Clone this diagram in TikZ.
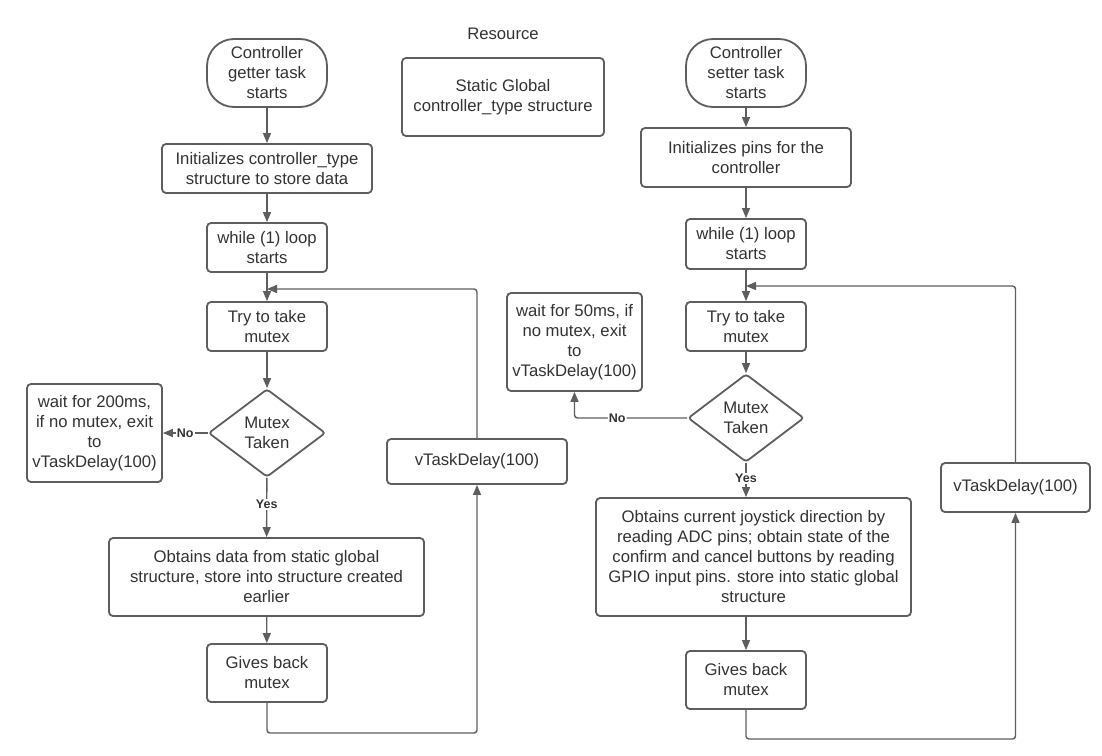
\documentclass[tikz,border=0pt]{standalone}
\usepackage{fontspec}
\setmainfont{Liberation Sans}
\usetikzlibrary{arrows.meta,shapes.geometric}
\definecolor{ln}{HTML}{5E5E5E}
\definecolor{tx}{HTML}{333333}
\begin{document}
\begin{tikzpicture}[x=1pt,y=-1pt,
  base/.style={draw=ln,line width=1.8pt,text=tx,align=center,inner sep=0pt,font=\fontsize{16.7}{20}\selectfont},
  box/.style={base,rectangle,rounded corners=4pt},
  term/.style={base,rectangle,rounded corners=27pt,minimum width=120pt,minimum height=68pt},
  dec/.style={base,diamond,rounded corners=3pt,shape aspect=1.33,minimum width=117pt,minimum height=88pt},
  plain/.style={text=tx,font=\fontsize{16.7}{20}\selectfont},
  conn/.style={draw=ln,line width=1.4pt,-{Triangle[length=10pt,width=8pt]}},
  lbl/.style={fill=white,text=tx,inner sep=1pt,font=\bfseries\fontsize{12.5}{14}\selectfont},
  ]
\useasboundingbox[fill=white] (0,0) rectangle (1102,755);

% Resource
\node[plain] (res) at (503,34) {Resource};
\node[box,minimum width=202pt,minimum height=78pt] (glob) at (503,97) {Static Global\\controller\_type structure};

% Left column
\node[term] (startL) at (267,73) {Controller\\getter task\\starts};
\node[box,minimum width=210pt,minimum height=49pt] (initL) at (267,168.5) {Initializes controller\_type\\structure to store data};
\node[box,minimum width=120pt,minimum height=49pt] (whileL) at (267,247.5) {while (1) loop\\starts};
\node[box,minimum width=120pt,minimum height=49pt] (tryL) at (267,326.5) {Try to take\\mutex};
\node[dec] (decL) at (267,433) {Mutex\\Taken};
\node[box,minimum width=135pt,minimum height=98pt] (waitL) at (94.5,433) {wait for 200ms,\\if no mutex, exit\\to\\vTaskDelay(100)};
\node[box,minimum width=315pt,minimum height=78pt] (obtL) at (266.5,577) {Obtains data from static global\\structure, store into structure created\\earlier};
\node[box,minimum width=120pt,minimum height=58pt] (giveL) at (267,673) {Gives back\\mutex};
\node[box,minimum width=180pt,minimum height=45pt] (delayL) at (477,461.5) {vTaskDelay(100)};
\coordinate (bL) at (477,733);
\coordinate (tL) at (477,289);
\coordinate (jL) at (267,289);

\draw[conn] (startL) -- (initL);
\draw[conn] (initL) -- (whileL);
\draw[conn] (whileL) -- (tryL);
\draw[conn] (tryL) -- (decL);
\draw[conn] (decL) -- node[lbl]{No} (waitL);
\draw[conn] (decL) -- node[lbl,pos=0.45]{Yes} (obtL);
\draw[conn] (obtL) -- (giveL);
\draw[conn,rounded corners=3pt] (giveL.south) |- (bL) -- (delayL.south);
\draw[conn,rounded corners=3pt] (delayL.north) -- (tL) -- (jL);

% Right column
\node[term] (startR) at (746,73) {Controller\\setter task\\starts};
\node[box,minimum width=210pt,minimum height=59pt] (initR) at (746,157.5) {Initializes pins for the\\controller};
\node[box,minimum width=120pt,minimum height=50pt] (whileR) at (746,244) {while (1) loop\\starts};
\node[box,minimum width=120pt,minimum height=49pt] (tryR) at (746,326.5) {Try to take\\mutex};
\node[dec,minimum width=116pt] (decR) at (746,418) {Mutex\\Taken};
\node[box,minimum width=135pt,minimum height=98pt] (waitR) at (574.5,342) {wait for 50ms, if\\no mutex, exit\\to\\vTaskDelay(100)};
\node[box,minimum width=315pt,minimum height=118pt] (obtR) at (753.5,557) {Obtains current joystick direction by\\reading ADC pins; obtain state of the\\confirm and cancel buttons by reading\\GPIO input pins. store into static global\\structure};
\node[box,minimum width=120pt,minimum height=58pt] (giveR) at (746,680) {Gives back\\mutex};
\node[box,minimum width=149pt,minimum height=49pt] (delayR) at (1015.5,487.5) {vTaskDelay(100)};
\coordinate (bR) at (1015.5,739);
\coordinate (tR) at (1015.5,286);
\coordinate (jR) at (746,286);

\draw[conn] (startR) -- (initR);
\draw[conn] (initR) -- (whileR);
\draw[conn] (whileR) -- (tryR);
\draw[conn] (tryR) -- (decR);
\draw[conn,rounded corners=3pt] (decR.west) -| node[lbl,pos=0.31]{No} (waitR.south);
\draw[conn] (decR.south) -- node[lbl,pos=0.45]{Yes} (decR.south |- obtR.north);
\draw[conn] (giveR.north |- obtR.south) -- (giveR.north);
\draw[conn,rounded corners=3pt] (giveR.south) |- (bR) -- (delayR.south);
\draw[conn,rounded corners=3pt] (delayR.north) -- (tR) -- (jR);
\end{tikzpicture}
\end{document}
